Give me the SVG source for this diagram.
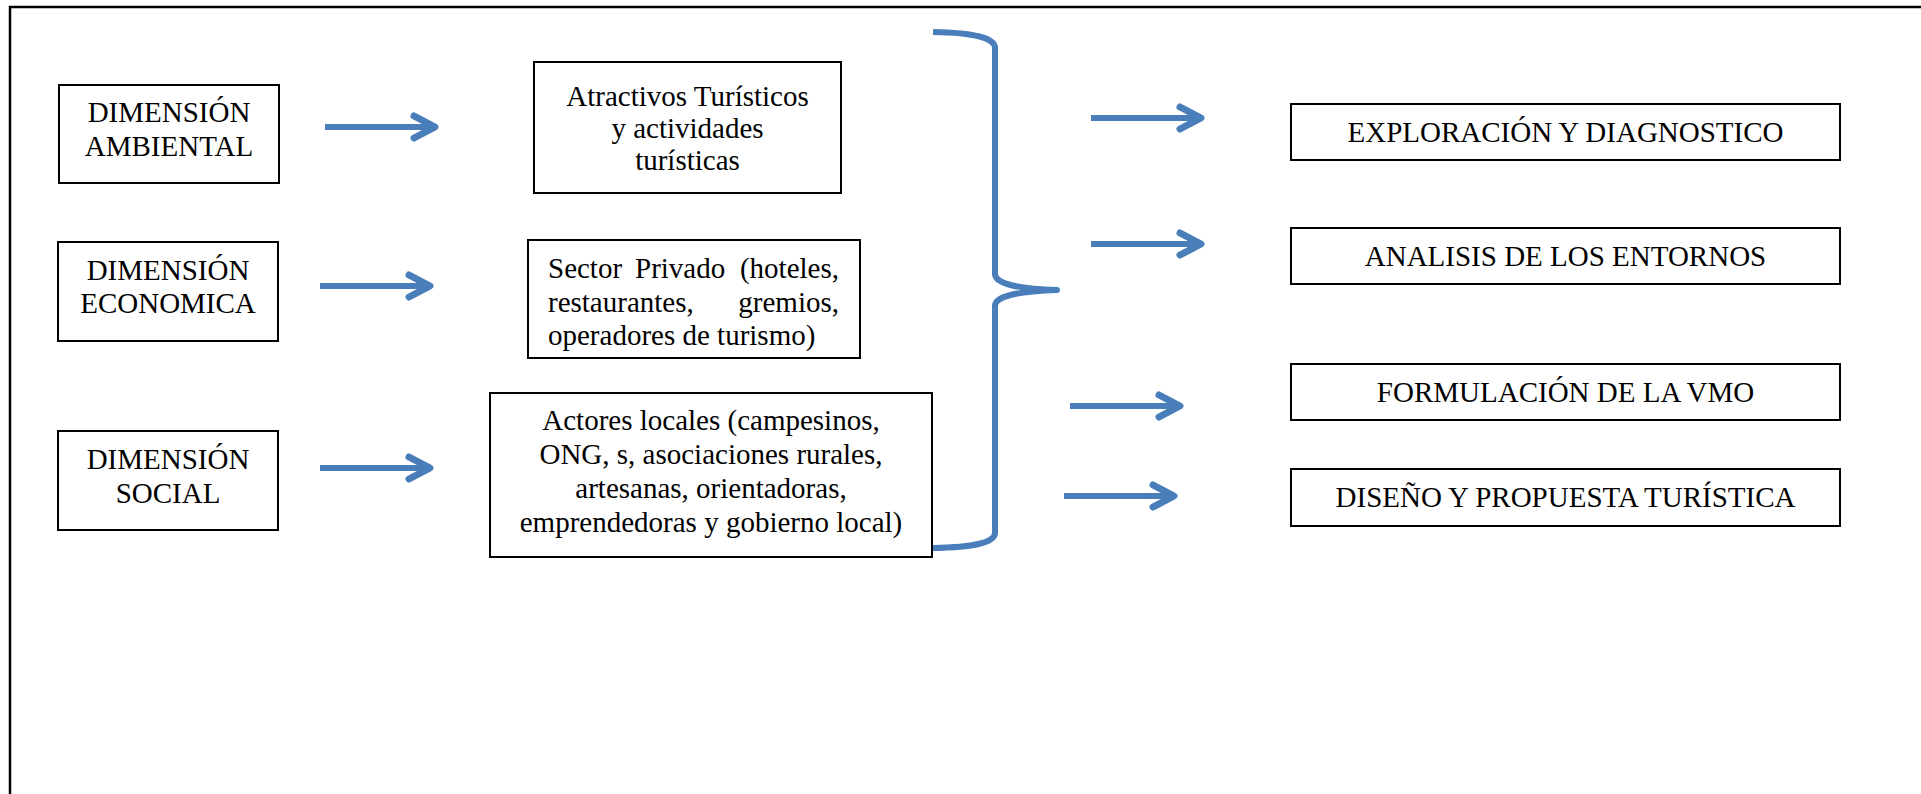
<svg xmlns="http://www.w3.org/2000/svg" width="1921" height="794" viewBox="0 0 1921 794">
<style>
.box{fill:#fff;stroke:#000;stroke-width:2}
.t{font-family:'Liberation Serif','Times New Roman','DejaVu Serif',serif;font-size:29px;fill:#000}
.c{text-anchor:middle}
.e{text-anchor:end}
.shaft{stroke:#4A7EBB;stroke-width:6;fill:none}
.head{stroke:#4A7EBB;stroke-width:7;fill:none;stroke-linecap:round;stroke-linejoin:round}
.brace{stroke:#4A7EBB;stroke-width:6;fill:none;stroke-linejoin:round}
</style>
<rect x="0" y="0" width="1921" height="794" fill="#fff"/>
<rect id="frame" x="10" y="7" width="2000" height="900" fill="none" stroke="#000" stroke-width="2.5"/>

<g id="dim-ambiental">
<rect class="box" x="59" y="85" width="220" height="98"/>
<text class="t c" x="169" y="122" font-family="Liberation Serif, serif">DIMENSIÓN</text>
<text class="t c" x="169" y="156">AMBIENTAL</text>
</g>
<g id="dim-economica">
<rect class="box" x="58" y="242" width="220" height="99"/>
<text class="t c" x="168" y="280">DIMENSIÓN</text>
<text class="t c" x="168" y="313">ECONOMICA</text>
</g>
<g id="dim-social">
<rect class="box" x="58" y="431" width="220" height="99"/>
<text class="t c" x="168" y="469">DIMENSIÓN</text>
<text class="t c" x="168" y="503">SOCIAL</text>
</g>

<g id="atractivos">
<rect class="box" x="534" y="62" width="307" height="131"/>
<text class="t c" x="687.5" y="106">Atractivos Turísticos</text>
<text class="t c" x="687.5" y="138">y actividades</text>
<text class="t c" x="687.5" y="170">turísticas</text>
</g>
<g id="sector-privado">
<rect class="box" x="528" y="240" width="332" height="118"/>
<text class="t" x="548" y="278">Sector</text>
<text class="t" x="635" y="278">Privado</text>
<text class="t e" x="839" y="278">(hoteles,</text>
<text class="t" x="548" y="312">restaurantes,</text>
<text class="t e" x="839" y="312">gremios,</text>
<text class="t" x="548" y="345">operadores de turismo)</text>
</g>
<g id="actores">
<rect class="box" x="490" y="393" width="442" height="164"/>
<text class="t c" x="711" y="430">Actores locales (campesinos,</text>
<text class="t c" x="711" y="464">ONG, s, asociaciones rurales,</text>
<text class="t c" x="711" y="498">artesanas, orientadoras,</text>
<text class="t c" x="711" y="532">emprendedoras y gobierno local)</text>
</g>

<g id="exploracion">
<rect class="box" x="1291" y="104" width="549" height="56"/>
<text class="t c" x="1565.5" y="142">EXPLORACIÓN Y DIAGNOSTICO</text>
</g>
<g id="analisis">
<rect class="box" x="1291" y="228" width="549" height="56"/>
<text class="t c" x="1565.5" y="266">ANALISIS DE LOS ENTORNOS</text>
</g>
<g id="formulacion">
<rect class="box" x="1291" y="364" width="549" height="56"/>
<text class="t c" x="1565.5" y="402">FORMULACIÓN DE LA VMO</text>
</g>
<g id="diseno">
<rect class="box" x="1291" y="469" width="549" height="57"/>
<text class="t c" x="1565.5" y="507">DISEÑO Y PROPUESTA TURÍSTICA</text>
</g>

<g id="connectors">
<path class="brace" d="M933,32 Q995,33 995,48 L995,274 Q995,288 1057,290 Q995,292 995,306 L995,533 Q995,547 933,548"/>
<g id="arrow-l1"><line class="shaft" x1="325" y1="127" x2="433" y2="127"/><polyline class="head" points="414,116 435,127 414,138"/></g>
<g id="arrow-l2"><line class="shaft" x1="320" y1="286" x2="428" y2="286"/><polyline class="head" points="409,275 430,286 409,297"/></g>
<g id="arrow-l3"><line class="shaft" x1="320" y1="468" x2="428" y2="468"/><polyline class="head" points="409,457 430,468 409,479"/></g>
<g id="arrow-r1"><line class="shaft" x1="1091" y1="118" x2="1199" y2="118"/><polyline class="head" points="1180,107 1201,118 1180,129"/></g>
<g id="arrow-r2"><line class="shaft" x1="1091" y1="244" x2="1199" y2="244"/><polyline class="head" points="1180,233 1201,244 1180,255"/></g>
<g id="arrow-r3"><line class="shaft" x1="1070" y1="406" x2="1178" y2="406"/><polyline class="head" points="1159,395 1180,406 1159,417"/></g>
<g id="arrow-r4"><line class="shaft" x1="1064" y1="496" x2="1172" y2="496"/><polyline class="head" points="1153,485 1174,496 1153,507"/></g>
</g>
</svg>
